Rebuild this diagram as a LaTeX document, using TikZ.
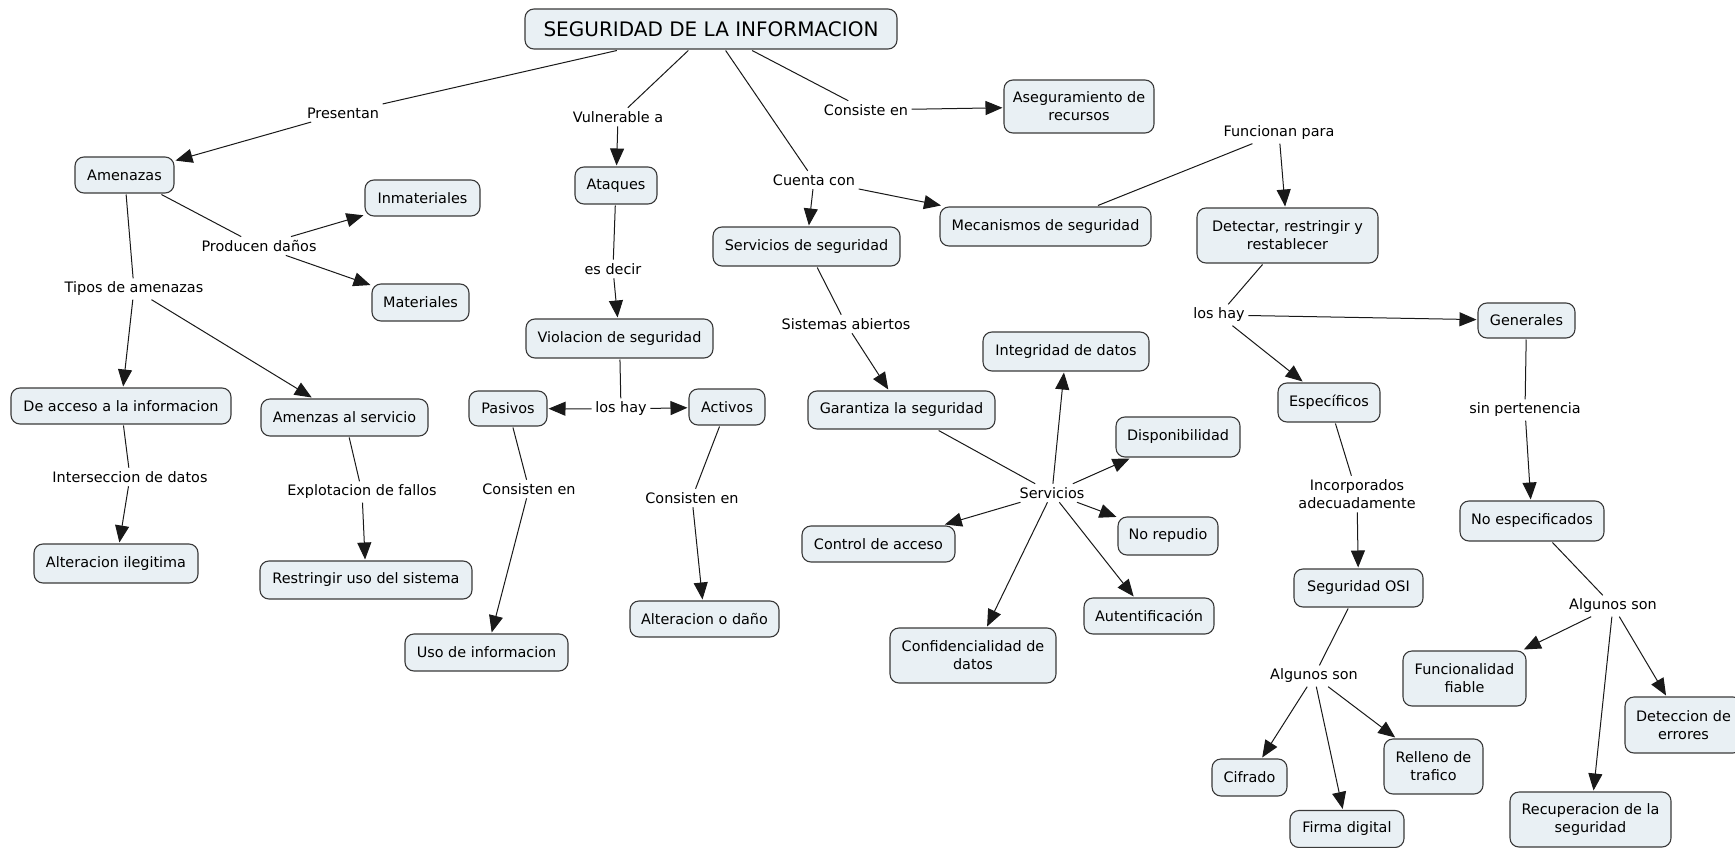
\documentclass[tikz,border=0pt]{standalone}
\usepackage{fontspec}
\setmainfont{DejaVu Sans}
\usetikzlibrary{arrows.meta}
\definecolor{cfill}{HTML}{E9F0F4}
\definecolor{cdraw}{HTML}{3A3A3A}
\tikzset{
  cnode/.style={draw=cdraw, fill=cfill, line width=1.1pt, rounded corners=9pt,
    align=center, inner sep=0pt, outer sep=1.5pt, font=\fontsize{14.4}{18}\selectfont},
  phrase/.style={inner sep=3.5pt, align=center, font=\fontsize{14.4}{18}\selectfont},
  link/.style={draw=black!90, line width=1pt},
  arrowlink/.style={link, -{Triangle[length=17pt,width=14pt]}},
}
\begin{document}
\begin{tikzpicture}[x=1pt,y=-1pt]
\useasboundingbox (0,0) rectangle (1735,848);
\clip (0,0) rectangle (1735,848);
\fill[white] (0,0) rectangle (1735,848);

% concepts
\node[cnode, font=\fontsize{20}{24}\selectfont, minimum width=372, minimum height=40] (seg) at (711,29) {SEGURIDAD DE LA INFORMACION};
\node[cnode, minimum width=99, minimum height=36] (amenazas) at (124.5,175) {Amenazas};
\node[cnode, minimum width=115, minimum height=36] (inmat) at (422.5,198) {Inmateriales};
\node[cnode, minimum width=97, minimum height=37] (mat) at (420.5,302.5) {Materiales};
\node[cnode, minimum width=82, minimum height=37] (ataques) at (616,185.5) {Ataques};
\node[cnode, minimum width=150, minimum height=53] (asegur) at (1079,106.5) {Aseguramiento de\\recursos};
\node[cnode, minimum width=211, minimum height=39] (mecan) at (1045.5,226.5) {Mecanismos de seguridad};
\node[cnode, minimum width=187, minimum height=39] (servseg) at (806.5,246.5) {Servicios de seguridad};
\node[cnode, minimum width=181, minimum height=55] (detectar) at (1287.5,235.5) {Detectar, restringir y\\restablecer};
\node[cnode, minimum width=220, minimum height=36] (deacceso) at (121,406) {De acceso a la informacion};
\node[cnode, minimum width=167, minimum height=37] (amserv) at (344.5,417.5) {Amenzas al servicio};
\node[cnode, minimum width=164, minimum height=39] (altileg) at (116,563.5) {Alteracion ilegitima};
\node[cnode, minimum width=212, minimum height=38] (restringir) at (366,580) {Restringir uso del sistema};
\node[cnode, minimum width=187, minimum height=39] (violacion) at (619.5,338.5) {Violacion de seguridad};
\node[cnode, minimum width=78, minimum height=35] (pasivos) at (508,408.5) {Pasivos};
\node[cnode, minimum width=76, minimum height=36] (activos) at (727,407) {Activos};
\node[cnode, minimum width=163, minimum height=37] (usoinfo) at (486.5,652.5) {Uso de informacion};
\node[cnode, minimum width=149, minimum height=36] (altdano) at (704.5,619) {Alteracion o daño};
\node[cnode, minimum width=187, minimum height=38] (garantiza) at (901.5,410) {Garantiza la seguridad};
\node[cnode, minimum width=166, minimum height=39] (integridad) at (1066,351.5) {Integridad de datos};
\node[cnode, minimum width=124, minimum height=40] (disponib) at (1178,437) {Disponibilidad};
\node[cnode, minimum width=153, minimum height=36] (control) at (878.5,544) {Control de acceso};
\node[cnode, minimum width=100, minimum height=38] (norepudio) at (1168,536) {No repudio};
\node[cnode, minimum width=130, minimum height=36] (autent) at (1149,616) {Autentificación};
\node[cnode, minimum width=166, minimum height=55] (confid) at (973,655.5) {Confidencialidad de\\datos};
\node[cnode, minimum width=97, minimum height=35] (generales) at (1526.5,320.5) {Generales};
\node[cnode, minimum width=102, minimum height=39] (especif) at (1329,402.5) {Específicos};
\node[cnode, minimum width=144, minimum height=40] (noespec) at (1532,521) {No especificados};
\node[cnode, minimum width=129, minimum height=38] (osi) at (1358.5,588) {Seguridad OSI};
\node[cnode, minimum width=123, minimum height=55] (funcional) at (1464.5,678.5) {Funcionalidad\\fiable};
\node[cnode, minimum width=117, minimum height=56] (deteccion) at (1683.5,725) {Deteccion de\\errores};
\node[cnode, minimum width=75, minimum height=37] (cifrado) at (1249.5,777.5) {Cifrado};
\node[cnode, minimum width=99, minimum height=55] (relleno) at (1433.5,766.5) {Relleno de\\trafico};
\node[cnode, minimum width=114, minimum height=37] (firma) at (1347,829) {Firma digital};
\node[cnode, minimum width=161, minimum height=55] (recuper) at (1590.5,819.5) {Recuperacion de la\\seguridad};

% linking phrases
\node[phrase] (presentan) at (343,113) {Presentan};
\node[phrase] (vulnerable) at (618,117) {Vulnerable a};
\node[phrase] (consiste) at (866,110) {Consiste en};
\node[phrase] (cuenta) at (814,180) {Cuenta con};
\node[phrase] (funcionan) at (1279,133) {Funcionan para};
\node[phrase] (producen) at (259,246) {Producen daños};
\node[phrase] (tipos) at (134,289) {Tipos de amenazas};
\node[phrase] (esdecir) at (613,269) {es decir};
\node[phrase] (sistemas) at (846,324) {Sistemas abiertos};
\node[phrase] (loshayR) at (1219,315) {los hay};
\node[phrase] (loshayM) at (621,409) {los hay};
\node[phrase] (interseccion) at (130,477) {Interseccion de datos};
\node[phrase] (explotacion) at (362,492) {Explotacion de fallos};
\node[phrase] (consistenP) at (529,489) {Consisten en};
\node[phrase] (consistenA) at (692,498) {Consisten en};
\node[phrase] (servicios) at (1052,493) {Servicios};
\node[phrase] (incorporados) at (1357,494) {Incorporados\\adecuadamente};
\node[phrase] (sinpert) at (1525,410) {sin pertenencia};
\node[phrase] (algunosR) at (1613,606) {Algunos son};
\node[phrase] (algunosL) at (1314,676) {Algunos son};

% connectors
\draw[link] (seg) -- (presentan);
\draw[arrowlink] (presentan) -- (amenazas);
\draw[link] (seg) -- (vulnerable);
\draw[arrowlink] (vulnerable) -- (ataques);
\draw[link] (seg) -- (cuenta);
\draw[arrowlink] (cuenta) -- (servseg);
\draw[arrowlink] (cuenta) -- (mecan);
\draw[link] (seg) -- (consiste);
\draw[arrowlink] (consiste) -- (asegur);
\draw[link] (mecan) -- (funcionan);
\draw[arrowlink] (funcionan) -- (detectar);

\draw[link] (amenazas) -- (producen);
\draw[arrowlink] (producen) -- (inmat);
\draw[arrowlink] (producen) -- (mat);
\draw[link] (amenazas) -- (tipos);
\draw[arrowlink] (tipos) -- (deacceso);
\draw[arrowlink] (tipos) -- (amserv);
\draw[link] (deacceso) -- (interseccion);
\draw[arrowlink] (interseccion) -- (altileg);
\draw[link] (amserv) -- (explotacion);
\draw[arrowlink] (explotacion) -- (restringir);

\draw[link] (ataques) -- (esdecir);
\draw[arrowlink] (esdecir) -- (violacion);
\draw[link] (violacion) -- (loshayM);
\draw[arrowlink] (loshayM) -- (pasivos);
\draw[arrowlink] (loshayM) -- (activos);
\draw[link] (pasivos) -- (consistenP);
\draw[arrowlink] (consistenP) -- (usoinfo);
\draw[link] (activos) -- (consistenA);
\draw[arrowlink] (consistenA) -- (altdano);

\draw[link] (servseg) -- (sistemas);
\draw[arrowlink] (sistemas) -- (garantiza);
\draw[link] (garantiza) -- (servicios);
\draw[arrowlink] (servicios) -- (integridad);
\draw[arrowlink] (servicios) -- (disponib);
\draw[arrowlink] (servicios) -- (norepudio);
\draw[arrowlink] (servicios) -- (autent);
\draw[arrowlink] (servicios) -- (confid);
\draw[arrowlink] (servicios) -- (control);

\draw[link] (detectar) -- (loshayR);
\draw[arrowlink] (loshayR) -- (generales);
\draw[arrowlink] (loshayR) -- (especif);
\draw[link] (especif) -- (incorporados);
\draw[arrowlink] (incorporados) -- (osi);
\draw[link] (osi) -- (algunosL);
\draw[arrowlink] (algunosL) -- (cifrado);
\draw[arrowlink] (algunosL) -- (firma);
\draw[arrowlink] (algunosL) -- (relleno);
\draw[link] (generales) -- (sinpert);
\draw[arrowlink] (sinpert) -- (noespec);
\draw[link] (noespec) -- (algunosR);
\draw[arrowlink] (algunosR) -- (funcional);
\draw[arrowlink] (algunosR) -- (recuper);
\draw[arrowlink] (algunosR) -- (deteccion);
\end{tikzpicture}
\end{document}
